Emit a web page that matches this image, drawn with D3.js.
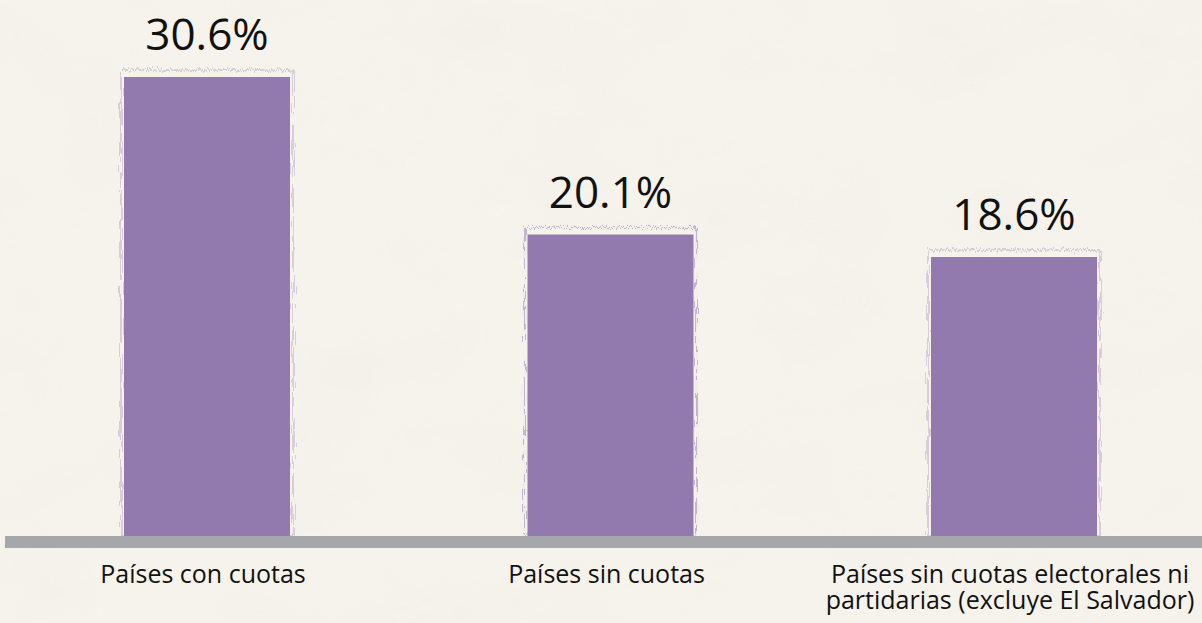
<!DOCTYPE html>
<html>
<head>
<meta charset="utf-8">
<script src="https://cdn.jsdelivr.net/npm/d3@7"></script>
<style>
  html, body { margin: 0; padding: 0; background: #f5f2ec; }
  svg { display: block; }
  .value { font-family: "Open Sans", sans-serif; font-size: 44px; fill: #111; }
  .cat { font-family: "Open Sans", sans-serif; font-size: 25px; fill: #111; }
</style>
</head>
<body>
<svg id="chart"></svg>
<script>
// data
var categories = ["Países con cuotas", "Países sin cuotas", "Países sin cuotas electorales ni|partidarias (excluye El Salvador)"];
var values = [30.6, 20.1, 18.6];
var valueLabels = ["30.6%", "20.1%", "18.6%"];

var width = 1202;
var height = 623;
var baseY = 536;
var barW = 166;

var svg = d3.select("#chart").attr("width", width).attr("height", height);

var defs = svg.append("defs");
var paper = defs.append("filter").attr("id", "paper").attr("x", 0).attr("y", 0).attr("width", "100%").attr("height", "100%");
paper.append("feTurbulence").attr("type", "fractalNoise").attr("baseFrequency", "0.008 0.012").attr("numOctaves", 4).attr("seed", 7);
paper.append("feColorMatrix").attr("type", "matrix")
    .attr("values", "0 0 0 0 0.85  0 0 0 0 0.80  0 0 0 0 0.72  0 0 0 -1.6 0.9");

var rough = defs.append("filter").attr("id", "rough").attr("x", "-5%").attr("y", "-5%").attr("width", "110%").attr("height", "110%");
rough.append("feTurbulence").attr("type", "fractalNoise").attr("baseFrequency", "0.9 0.05").attr("numOctaves", 2).attr("seed", 3).attr("result", "n");
rough.append("feDisplacementMap").attr("in", "SourceGraphic").attr("in2", "n").attr("scale", 8);

// background texture
svg.append("rect").attr("width", width).attr("height", height).attr("fill", "#f6f3ed");
svg.append("rect").attr("width", width).attr("height", height).attr("filter", "url(#paper)").attr("opacity", 0.3);

var x = d3.scalePoint()
    .domain(categories)
    .range([207, 1014]);

var y = d3.scaleLinear()
    .domain([0, values[0]])
    .range([baseY, 77]);

var bars = svg.append("g").selectAll("g")
    .data(categories)
    .enter().append("g");

// faint rough outline behind each bar
bars.append("rect")
    .attr("x", function (d) { return x(d) - barW / 2 - 3; })
    .attr("y", function (d, i) { return y(values[i]) - 7; })
    .attr("width", barW + 6)
    .attr("height", function (d, i) { return baseY - y(values[i]) + 7; })
    .attr("fill", "none")
    .attr("stroke", "#9a84b8")
    .attr("stroke-width", 1.2)
    .attr("opacity", 0.55)
    .attr("filter", "url(#rough)");

bars.append("rect")
    .attr("x", function (d) { return x(d) - barW / 2; })
    .attr("y", function (d, i) { return y(values[i]); })
    .attr("width", barW)
    .attr("height", function (d, i) { return baseY - y(values[i]); })
    .attr("fill", "#927aaf");

bars.append("text")
    .attr("class", "value")
    .attr("x", function (d) { return x(d); })
    .attr("y", function (d, i) { return y(values[i]) - 27; })
    .attr("text-anchor", "middle")
    .text(function (d, i) { return valueLabels[i]; });

// baseline
svg.append("rect")
    .attr("x", 5).attr("y", baseY)
    .attr("width", width - 5).attr("height", 12)
    .attr("fill", "#a6a7ab");

var labels = svg.append("g").selectAll("text")
    .data(categories)
    .enter().append("text")
    .attr("class", "cat")
    .attr("text-anchor", "middle")
    .attr("x", function (d) { return x(d); })
    .attr("y", 583);

labels.selectAll("tspan")
    .data(function (d) { return d.split("|").map(function (t) { return { t: t, cx: x(d) - 4 }; }); })
    .enter().append("tspan")
    .attr("x", function (d) { return d.cx; })
    .attr("dy", function (d, i) { return i === 0 ? 0 : 26; })
    .text(function (d) { return d.t; });
</script>
</body>
</html>
